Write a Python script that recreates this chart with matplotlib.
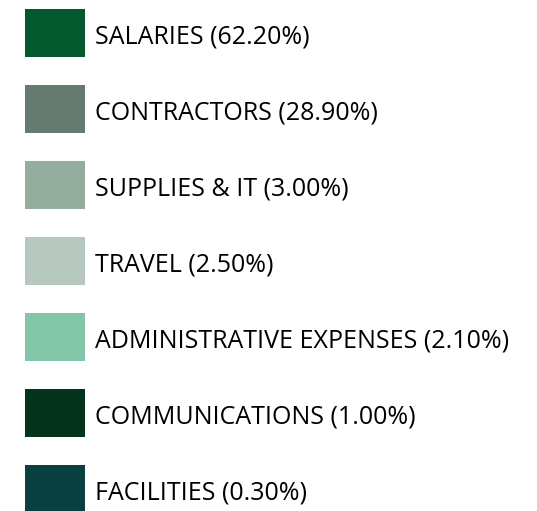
import matplotlib.pyplot as plt
from matplotlib.patches import Rectangle

# ---------- data ----------
categories = ["SALARIES", "CONTRACTORS", "SUPPLIES & IT", "TRAVEL",
              "ADMINISTRATIVE EXPENSES", "COMMUNICATIONS", "FACILITIES"]
shares = [62.20, 28.90, 3.00, 2.50, 2.10, 1.00, 0.30]
colors = ["#03582E", "#667B6F", "#93AE9F", "#B7C9BF",
          "#83C5A9", "#05341D", "#0A4040"]

W, H = 537, 511
fig = plt.figure(figsize=(W / 100, H / 100), dpi=100)
ax = fig.add_axes([0, 0, 1, 1])
ax.set_xlim(0, W)
ax.set_ylim(H, 0)
ax.axis("off")

# legend rows (swatch + label), laid out in pixel units
row_step = 76
for i, (cat, pct, col) in enumerate(zip(categories, shares, colors)):
    top = 9 + i * row_step
    ax.add_patch(Rectangle((25, top), 60, 48, facecolor=col, edgecolor="none"))
    ax.text(95, top + 34.5, f"{cat} ({pct:.2f}%)", va="baseline", ha="left",
            fontsize=18, family="Open Sans", color="black")

fig.savefig("out.png", dpi=100)
